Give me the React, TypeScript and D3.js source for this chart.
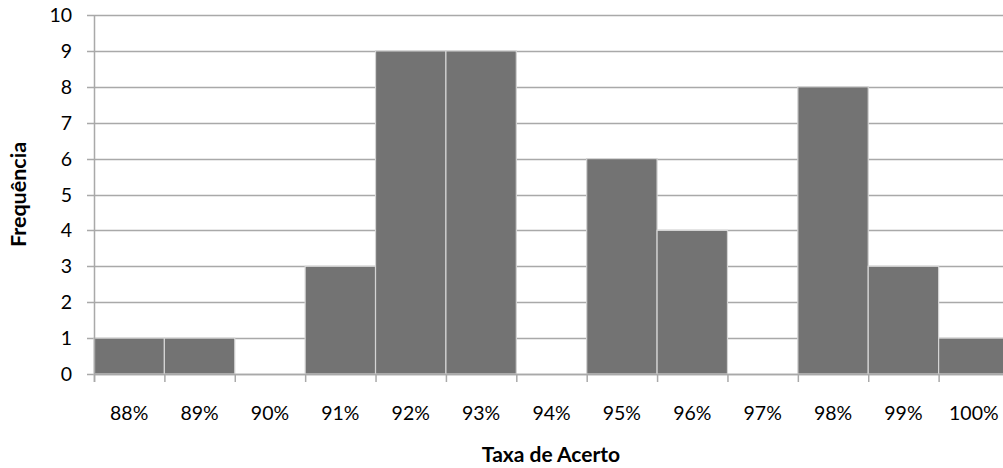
import React from "react";
import * as d3 from "d3";

const categories = ["88%", "89%", "90%", "91%", "92%", "93%", "94%", "95%", "96%", "97%", "98%", "99%", "100%"];
const frequencies = [1, 1, 0, 3, 9, 9, 0, 6, 4, 0, 8, 3, 1];
const yTicks = [0, 1, 2, 3, 4, 5, 6, 7, 8, 9, 10];

const W = 1003;
const H = 468;
const left = 94;
const right = 1009;
const top = 15;
const bottom = 374;
const font = "Lato, 'Open Sans', sans-serif";
const gridColor = "#a9a9a9";

export default function App() {
  const x = d3.scaleBand<string>().domain(categories).range([left, right]).padding(0);
  const y = d3.scaleLinear().domain([0, 10]).range([bottom, top]);
  const bw = x.bandwidth();
  const boundaries = categories.map((c) => x(c) as number);

  return (
    <svg width={W} height={H} style={{ position: "absolute", left: 0, top: 0, display: "block" }}>
      <rect width={W} height={H} fill="#fff" />
      {/* horizontal gridlines with left tick stubs */}
      {yTicks.map((t) => (
        <line key={"g" + t} x1={87} x2={right} y1={Math.round(y(t)) + 0.5} y2={Math.round(y(t)) + 0.5} stroke={gridColor} strokeWidth={1.5} />
      ))}
      {/* bars */}
      {categories.map((c, i) =>
        frequencies[i] > 0 ? (
          <rect
            key={"b" + c}
            x={x(c) as number}
            y={y(frequencies[i])}
            width={bw}
            height={y(0) - y(frequencies[i])}
            fill="#737373"
            stroke="#d4d4d4"
            strokeWidth={1.2}
          />
        ) : null
      )}
      {/* y axis */}
      <line x1={left + 0.5} x2={left + 0.5} y1={top} y2={bottom + 8} stroke={gridColor} strokeWidth={1.5} />
      {/* x axis ticks */}
      {[...boundaries, right].map((b, i) => (
        <line key={"xt" + i} x1={b + 0.5} x2={b + 0.5} y1={bottom} y2={bottom + 8} stroke={gridColor} strokeWidth={1.5} />
      ))}
      <line x1={left} x2={right} y1={bottom + 0.5} y2={bottom + 0.5} stroke={gridColor} strokeWidth={1.5} />
      {/* y tick labels */}
      {yTicks.map((t) => (
        <text key={"yl" + t} x={72} y={y(t) + 7} textAnchor="end" fontFamily={font} fontSize={19.5} fill="#000">
          {t}
        </text>
      ))}
      {/* x tick labels */}
      {categories.map((c) => (
        <text key={"xl" + c} x={(x(c) as number) + bw / 2} y={420} textAnchor="middle" fontFamily={font} fontSize={19.5} fill="#000">
          {c}
        </text>
      ))}
      <text x={551} y={462} textAnchor="middle" fontFamily={font} fontSize={21} fontWeight="bold" fill="#000">
        Taxa de Acerto
      </text>
      <text
        transform={`translate(26, ${(top + bottom) / 2}) rotate(-90)`}
        textAnchor="middle"
        fontFamily={font}
        fontSize={21.5}
        fontWeight="bold"
        fill="#000"
      >
        Frequência
      </text>
    </svg>
  );
}
